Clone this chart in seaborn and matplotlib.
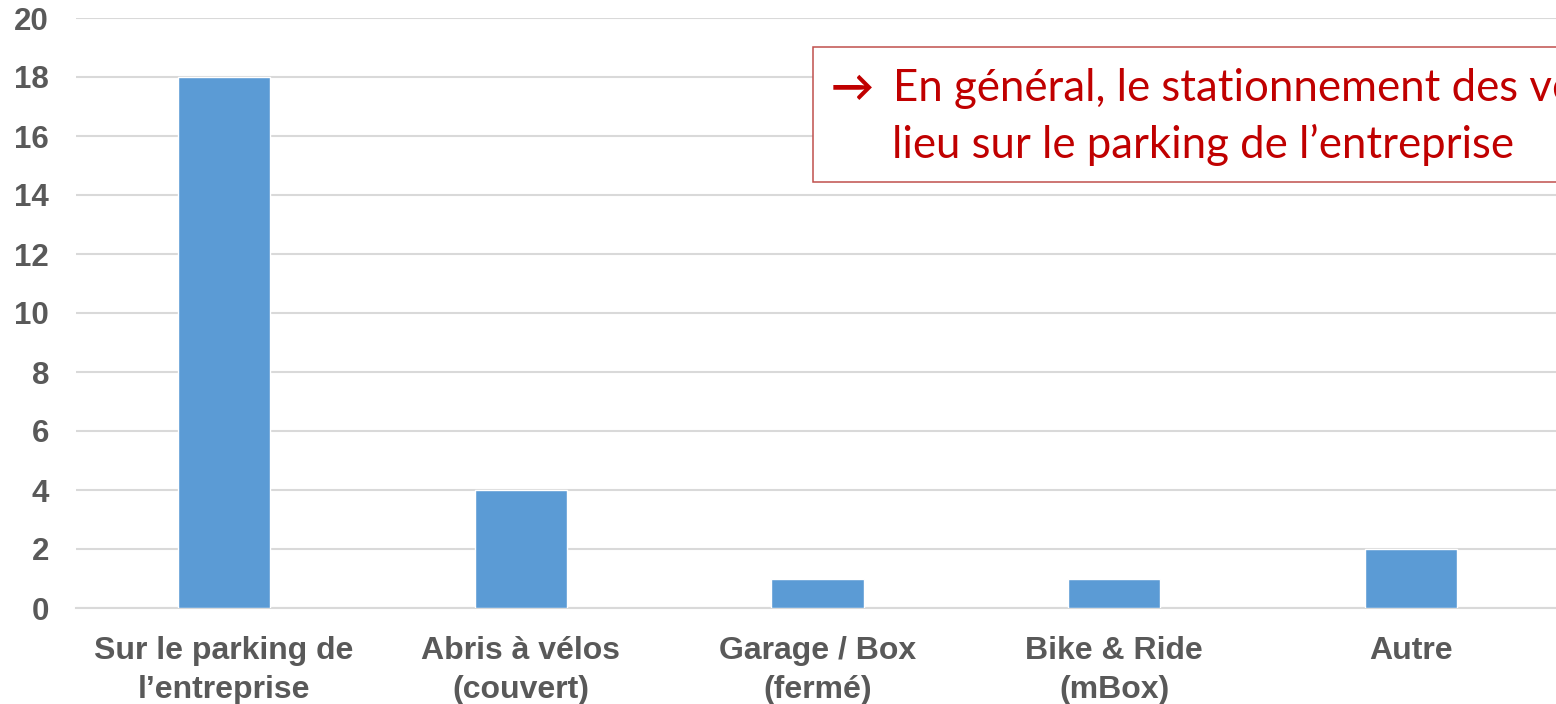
import matplotlib
matplotlib.use("Agg")
import matplotlib.pyplot as plt
import seaborn as sns
import pandas as pd
from matplotlib.patches import Rectangle

categories = [
    "Sur le parking de\nl\u2019entreprise",
    "Abris \u00e0 v\u00e9los\n(couvert)",
    "Garage / Box\n(ferm\u00e9)",
    "Bike & Ride\n(mBox)",
    "Autre",
]
values = [18, 4, 1, 1, 2]
y_ticks = list(range(0, 21, 2))

note_arrow = "\u2192"
note_line1 = "En g\u00e9n\u00e9ral, le stationnement des v\u00e9los a"
note_line2 = "lieu sur le parking de l\u2019entreprise"

sns.set_theme(style="white")
plt.rcParams["font.family"] = ["Liberation Sans", "DejaVu Sans"]

df = pd.DataFrame({"lieu": categories, "n": values})

fig = plt.figure(figsize=(15.56, 7.04), dpi=100)
ax = fig.add_axes([75.5 / 1556, 96 / 704, 1484 / 1556, 590 / 704])

sns.barplot(data=df, x="lieu", y="n", color="#5B9BD5", width=0.31,
            saturation=1, ax=ax, zorder=3)

ax.set_ylim(0, 20)
ax.set_yticks(y_ticks)
ax.set_xlabel("")
ax.set_ylabel("")
ax.yaxis.grid(True, color="#D9D9D9", linewidth=1.5, zorder=0)
ax.set_axisbelow(True)
for side in ["left", "right", "top"]:
    ax.spines[side].set_visible(False)
ax.spines["bottom"].set_color("#D9D9D9")
ax.spines["bottom"].set_linewidth(1.5)
ax.tick_params(axis="both", length=0, colors="#595959")
for lbl in ax.get_yticklabels():
    lbl.set_fontsize(22.5)
    lbl.set_fontweight("bold")
ax.tick_params(axis="y", pad=19)
for lbl in ax.get_xticklabels():
    lbl.set_fontsize(23)
    lbl.set_fontweight("bold")
    lbl.set_linespacing(1.42)
ax.tick_params(axis="x", pad=20)

# Callout box with the key takeaway
box = Rectangle((813 / 1556, 1 - 182 / 704), 0.6, (182 - 47) / 704,
                transform=fig.transFigure, facecolor="white",
                edgecolor="#C0504D", linewidth=1.1, zorder=5)
fig.patches.append(box)
note_font = dict(color="#C00000", fontsize=31.5, family=["Lato", "DejaVu Sans"],
                 va="baseline", zorder=6)
fig.text(831 / 1556, 1 - 101 / 704, note_arrow,
         **{**note_font, "fontsize": 31, "fontweight": "bold"})
fig.text(893 / 1556, 1 - 101 / 704, note_line1, **note_font)
fig.text(892 / 1556, 1 - 158 / 704, note_line2, **note_font)

fig.savefig("out.png", dpi=100)
